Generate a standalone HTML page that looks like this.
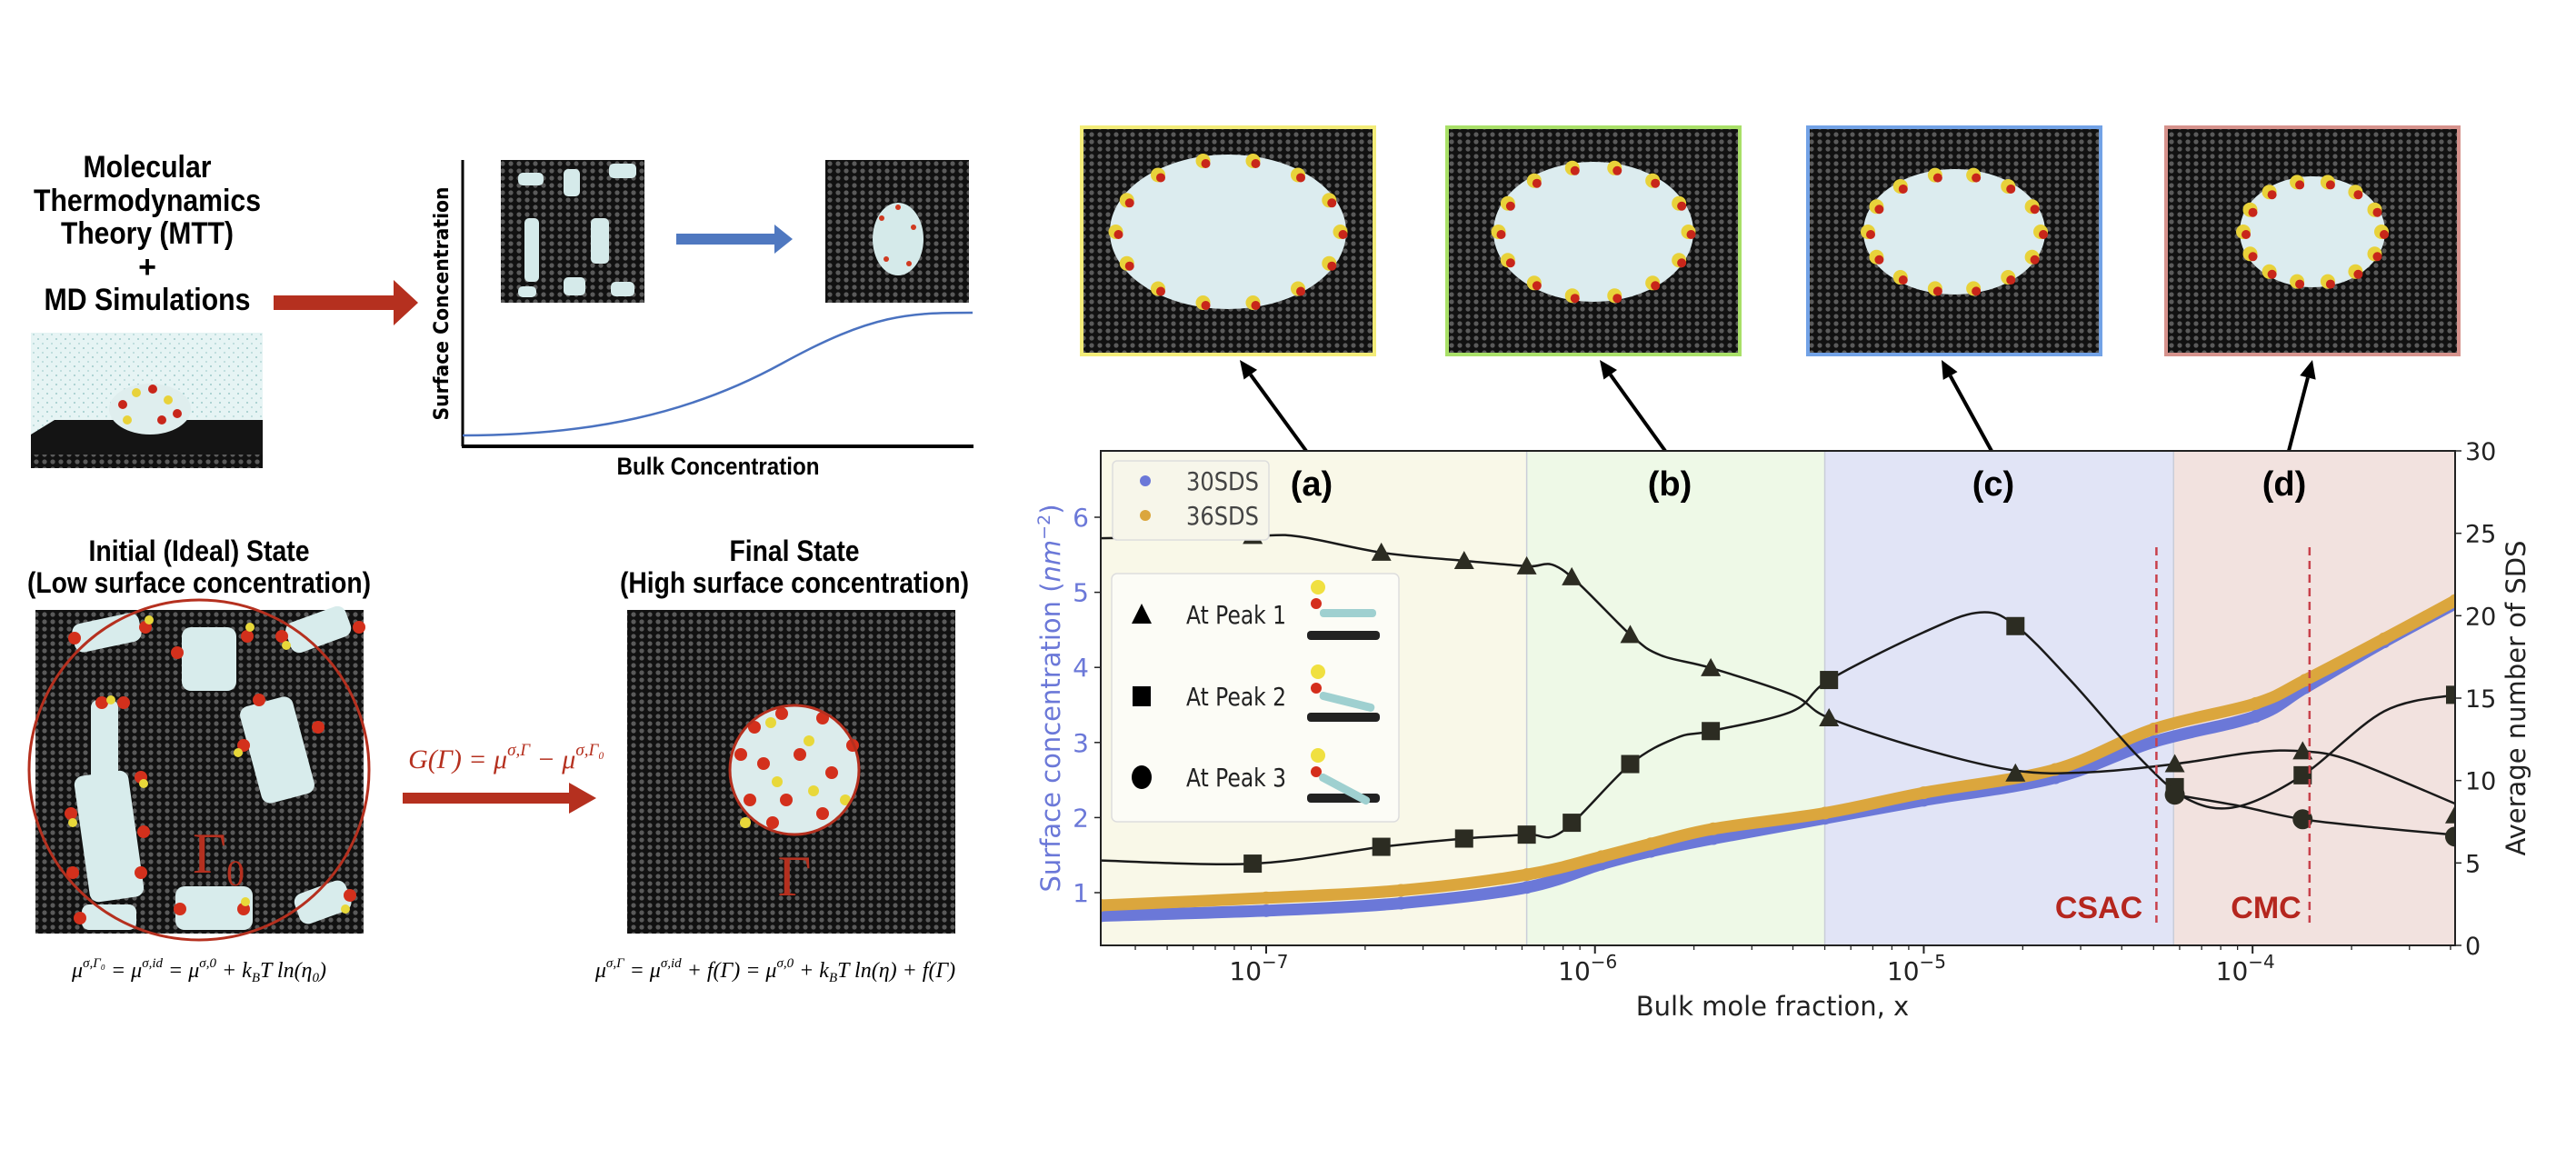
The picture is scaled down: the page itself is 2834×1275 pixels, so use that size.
<!DOCTYPE html>
<html><head><meta charset="utf-8">
<style>
html,body{margin:0;padding:0;background:#fff;}
svg{display:block;}
.nb{font-family:"Liberation Sans Narrow","Liberation Sans",sans-serif;font-weight:bold;}
.mp{font-family:"DejaVu Sans","Liberation Sans",sans-serif;}
.mt{font-family:"Liberation Serif",serif;font-style:italic;}
</style></head>
<body>
<svg id="fig" width="2834" height="1275" viewBox="0 0 2834 1275" xmlns="http://www.w3.org/2000/svg">
<defs>
<pattern id="graph" width="9" height="8" patternUnits="userSpaceOnUse">
<rect width="9" height="8" fill="#111"/><circle cx="4" cy="4" r="2.6" fill="#5a5a5a"/>
</pattern>
<pattern id="water" width="10" height="10" patternUnits="userSpaceOnUse">
<rect width="10" height="10" fill="#e6f4f4"/><circle cx="2" cy="3" r="1" fill="#9cc9c9"/><circle cx="7" cy="8" r="1" fill="#b4d8d8"/>
</pattern>
</defs>

<!-- LEFT PANEL -->
<g>
<text class="nb" x="162" y="195" font-size="34" text-anchor="middle" textLength="141" lengthAdjust="spacingAndGlyphs">Molecular</text>
<text class="nb" x="162" y="232" font-size="34" text-anchor="middle" textLength="250" lengthAdjust="spacingAndGlyphs">Thermodynamics</text>
<text class="nb" x="162" y="268" font-size="34" text-anchor="middle" textLength="190" lengthAdjust="spacingAndGlyphs">Theory (MTT)</text>
<text class="nb" x="162" y="305" font-size="34" text-anchor="middle">+</text>
<text class="nb" x="162" y="341" font-size="34" text-anchor="middle" textLength="227" lengthAdjust="spacingAndGlyphs">MD Simulations</text>
</g>
<g>
<rect x="34" y="366" width="255" height="149" fill="url(#water)"/>
<polygon points="34,478 60,462 289,462 289,515 34,515" fill="#141414"/>
<rect x="34" y="500" width="255" height="15" fill="url(#graph)"/>
<ellipse cx="165" cy="450" rx="45" ry="28" fill="#dfeeee"/>
<circle cx="135" cy="445" r="5" fill="#c8261a"/><circle cx="150" cy="432" r="5" fill="#e8d23a"/><circle cx="168" cy="428" r="5" fill="#c8261a"/><circle cx="185" cy="440" r="5" fill="#e8d23a"/><circle cx="195" cy="455" r="5" fill="#c8261a"/><circle cx="140" cy="462" r="5" fill="#e8d23a"/><circle cx="178" cy="462" r="5" fill="#c8261a"/>
</g>
<polygon points="301,325 433,325 433,308 460,333 433,358 433,341 301,341" fill="#b5301f"/>

<g>
<line x1="509" y1="176" x2="509" y2="491" stroke="#000" stroke-width="3"/>
<line x1="508" y1="491" x2="1071" y2="491" stroke="#000" stroke-width="4"/>
<path d="M509,479 C650,479 760,455 860,400 S1000,344 1070,344" fill="none" stroke="#4a72c0" stroke-width="2.5"/>
<text class="mp" font-weight="bold" font-size="22" transform="translate(493,334) rotate(-90)" text-anchor="middle" textLength="257" lengthAdjust="spacingAndGlyphs">Surface Concentration</text>
<text class="nb" x="790" y="522" font-size="27" text-anchor="middle" textLength="223" lengthAdjust="spacingAndGlyphs">Bulk Concentration</text>
<rect x="551" y="176" width="158" height="157" fill="url(#graph)"/>
<g fill="#d5eaea">
<rect x="570" y="190" width="28" height="14" rx="5"/><rect x="620" y="186" width="18" height="30" rx="5"/><rect x="670" y="180" width="30" height="16" rx="5"/>
<rect x="577" y="240" width="16" height="70" rx="5"/><rect x="650" y="240" width="20" height="50" rx="5"/>
<rect x="620" y="305" width="24" height="20" rx="5"/><rect x="672" y="310" width="26" height="16" rx="5"/><rect x="570" y="315" width="20" height="12" rx="5"/>
</g>
<rect x="908" y="176" width="158" height="157" fill="url(#graph)"/>
<ellipse cx="988" cy="263" rx="28" ry="40" fill="#d5eaea"/>
<g fill="#d03a20"><circle cx="970" cy="240" r="3"/><circle cx="1005" cy="250" r="3"/><circle cx="975" cy="285" r="3"/><circle cx="1000" cy="290" r="3"/><circle cx="988" cy="228" r="3"/></g>
<polygon points="744,257 852,257 852,247 872,263 852,279 852,269 744,269" fill="#4f78c0"/>
</g>

<g>
<text class="nb" x="219" y="617" font-size="32" text-anchor="middle" textLength="243" lengthAdjust="spacingAndGlyphs">Initial (Ideal) State</text>
<text class="nb" x="219" y="652" font-size="32" text-anchor="middle" textLength="378" lengthAdjust="spacingAndGlyphs">(Low surface concentration)</text>
<text class="nb" x="874" y="617" font-size="32" text-anchor="middle" textLength="143" lengthAdjust="spacingAndGlyphs">Final State</text>
<text class="nb" x="874" y="652" font-size="32" text-anchor="middle" textLength="384" lengthAdjust="spacingAndGlyphs">(High surface concentration)</text>
</g>
<g>
<rect x="39" y="671" width="361" height="356" fill="url(#graph)"/>
<g fill="#d8ecec">
<rect x="80" y="680" width="75" height="32" rx="10" transform="rotate(-12 117 696)"/>
<rect x="200" y="690" width="60" height="70" rx="10"/>
<rect x="315" y="675" width="70" height="35" rx="10" transform="rotate(-20 350 692)"/>
<rect x="100" y="770" width="30" height="90" rx="8"/>
<rect x="90" y="850" width="60" height="140" rx="10" transform="rotate(-8 120 920)"/>
<rect x="275" y="770" width="60" height="110" rx="10" transform="rotate(-15 305 825)"/>
<rect x="193" y="975" width="85" height="48" rx="10"/>
<rect x="325" y="975" width="60" height="35" rx="10" transform="rotate(-20 355 992)"/>
<rect x="90" y="995" width="60" height="28" rx="8"/>
</g>
<g fill="#d3301c">
<circle cx="160" cy="690" r="7"/><circle cx="82" cy="702" r="7"/><circle cx="272" cy="700" r="7"/><circle cx="195" cy="718" r="7"/><circle cx="395" cy="690" r="7"/><circle cx="310" cy="700" r="7"/>
<circle cx="112" cy="773" r="7"/><circle cx="136" cy="773" r="7"/><circle cx="285" cy="770" r="7"/><circle cx="268" cy="820" r="7"/><circle cx="350" cy="800" r="7"/>
<circle cx="78" cy="895" r="7"/><circle cx="158" cy="915" r="7"/><circle cx="155" cy="855" r="7"/><circle cx="80" cy="960" r="7"/><circle cx="155" cy="960" r="7"/>
<circle cx="198" cy="1000" r="7"/><circle cx="268" cy="1000" r="7"/><circle cx="385" cy="985" r="7"/><circle cx="88" cy="1010" r="7"/>
</g>
<g fill="#e8d83a">
<circle cx="164" cy="682" r="5"/><circle cx="275" cy="690" r="5"/><circle cx="315" cy="710" r="5"/><circle cx="122" cy="770" r="5"/><circle cx="262" cy="828" r="5"/><circle cx="158" cy="862" r="5"/><circle cx="80" cy="905" r="5"/><circle cx="270" cy="992" r="5"/><circle cx="380" cy="1000" r="5"/>
</g>
<circle cx="219" cy="847" r="187" fill="none" stroke="#b5301f" stroke-width="3"/>
<text x="212" y="960" font-family="Liberation Serif,serif" font-size="64" fill="#b5301f">Γ<tspan font-size="40" dy="14">0</tspan></text>
</g>
<g>
<text class="mt" x="557" y="845" font-size="30" fill="#b5301f" text-anchor="middle">G(Γ) = μ<tspan font-size="19" dy="-14">σ,Γ</tspan><tspan dy="14"> − μ</tspan><tspan font-size="19" dy="-14">σ,Γ₀</tspan></text>
<polygon points="443,872 626,872 626,861 656,878 626,895 626,884 443,884" fill="#b5301f"/>
</g>
<g>
<rect x="690" y="671" width="361" height="356" fill="url(#graph)"/>
<ellipse cx="874" cy="847" rx="70" ry="72" fill="#dcecec"/>
<g fill="#d3301c"><circle cx="830" cy="800" r="7"/><circle cx="860" cy="785" r="7"/><circle cx="905" cy="790" r="7"/><circle cx="840" cy="840" r="7"/><circle cx="880" cy="830" r="7"/><circle cx="915" cy="850" r="7"/><circle cx="825" cy="880" r="7"/><circle cx="865" cy="880" r="7"/><circle cx="905" cy="895" r="7"/><circle cx="850" cy="905" r="7"/><circle cx="938" cy="820" r="7"/><circle cx="815" cy="830" r="7"/></g>
<g fill="#e8d83a"><circle cx="848" cy="795" r="6"/><circle cx="890" cy="815" r="6"/><circle cx="855" cy="860" r="6"/><circle cx="895" cy="870" r="6"/><circle cx="930" cy="880" r="6"/><circle cx="820" cy="905" r="6"/></g>
<circle cx="874" cy="847" r="71" fill="none" stroke="#b5301f" stroke-width="3"/>
<text x="874" y="985" font-family="Liberation Serif,serif" font-size="64" fill="#b5301f" text-anchor="middle">Γ</text>
</g>
<g>
<text class="mt" x="219" y="1075" font-size="24" text-anchor="middle">μ<tspan font-size="15" dy="-11">σ,Γ₀</tspan><tspan dy="11"> = μ</tspan><tspan font-size="15" dy="-11">σ,id</tspan><tspan dy="11"> = μ</tspan><tspan font-size="15" dy="-11">σ,0</tspan><tspan dy="11"> + k</tspan><tspan font-size="15" dy="5">B</tspan><tspan dy="-5">T ln(η</tspan><tspan font-size="15" dy="5">0</tspan><tspan dy="-5">)</tspan></text>
<text class="mt" x="853" y="1075" font-size="24" text-anchor="middle">μ<tspan font-size="15" dy="-11">σ,Γ</tspan><tspan dy="11"> = μ</tspan><tspan font-size="15" dy="-11">σ,id</tspan><tspan dy="11"> + f(Γ) = μ</tspan><tspan font-size="15" dy="-11">σ,0</tspan><tspan dy="11"> + k</tspan><tspan font-size="15" dy="5">B</tspan><tspan dy="-5">T ln(η) + f(Γ)</tspan></text>
</g>

<!-- SNAPSHOT FRAMES -->
<g id="frames"></g>
<g id="chart"></g>
</svg>

<script>
// ---- chart data ----
const xTickExps = [-7, -6, -5, -4];
const leftTicks = [1, 2, 3, 4, 5, 6];
const rightTicks = [0, 5, 10, 15, 20, 25, 30];
const regionLabels = ["(a)", "(b)", "(c)", "(d)"];
const regionBounds = [3.14e-8, 6.2e-7, 5.0e-6, 5.75e-5, 4.13e-4];
const markerX = [9.1e-8, 2.24e-7, 4.0e-7, 6.2e-7, 8.5e-7, 1.28e-6, 2.25e-6, 5.15e-6, 1.9e-5, 5.8e-5, 1.42e-4, 4.13e-4];
const peak1Values = [24.85, 23.83, 23.33, 23.0, 22.34, 18.84, 16.83, 13.79, 10.44, 11.0, 11.78, 7.9];
const peak2Values = [4.96, 5.98, 6.48, 6.72, 7.44, 11.0, 13.0, 16.1, 19.37, 9.6, 10.32, 15.2];
const peak3X = [5.8e-5, 1.42e-4, 4.13e-4];
const peak3Values = [9.14, 7.65, 6.6];
const peak1CurveLogX = [-7.503, -7.04, -6.9, -6.649, -6.399, -6.207, -6.1, -5.892, -5.8, -5.648, -5.4, -5.288, -5.0, -4.72, -4.5, -4.238, -4.0, -3.848, -3.7, -3.384];
const peak1CurveY = [24.7, 24.85, 24.8, 23.83, 23.33, 23.0, 22.8, 18.84, 17.6, 16.83, 15.2, 13.79, 11.9, 10.6, 10.5, 11.0, 11.7, 11.78, 11.2, 8.6];
const peak2CurveLogX = [-7.503, -7.04, -6.649, -6.399, -6.207, -6.1, -5.892, -5.75, -5.648, -5.4, -5.288, -5.0, -4.83, -4.72, -4.55, -4.35, -4.2, -4.05, -3.848, -3.6, -3.384];
const peak2CurveY = [5.15, 4.96, 5.98, 6.48, 6.72, 6.9, 11.0, 12.6, 13.0, 14.2, 16.1, 19.0, 20.2, 19.4, 16.0, 11.5, 8.9, 8.4, 10.32, 14.2, 15.2];
const peak3CurveLogX = [-4.238, -4.05, -3.848, -3.6, -3.384];
const peak3CurveY = [9.14, 8.5, 7.65, 7.1, 6.7];
const sdsLogX = [-7.503, -7.0, -6.59, -6.207, -5.98, -5.83, -5.64, -5.30, -5.0, -4.6, -4.3, -3.99, -3.84, -3.6, -3.384];
const sds36Values = [0.83, 0.93, 1.03, 1.24, 1.48, 1.65, 1.85, 2.06, 2.33, 2.64, 3.18, 3.52, 3.83, 4.38, 4.89];
const sds30Values = [0.69, 0.76, 0.86, 1.07, 1.38, 1.55, 1.72, 1.99, 2.23, 2.53, 3.01, 3.35, 3.73, 4.34, 4.85];
const csacX = 5.1e-5;
const cmcX = 1.49e-4;

// ---- scales ----
const PL = 1211, PR = 2701, PT = 496, PB = 1040;
const LX0 = Math.log10(3.14e-8), LX1 = Math.log10(4.13e-4);
function xLog(l) { return PL + (l - LX0) / (LX1 - LX0) * (PR - PL); }
function xS(v) { return xLog(Math.log10(v)); }
function yL(v) { return 982 - (v - 1) * 82.6; }
function yR(v) { return PB - v * (PB - PT) / 30; }

const NS = "http://www.w3.org/2000/svg";
function mk(tag, attrs, parent) {
  const e = document.createElementNS(NS, tag);
  for (const k in attrs) e.setAttribute(k, attrs[k]);
  parent.appendChild(e);
  return e;
}
function smooth(pts) {
  let d = "M" + pts[0][0].toFixed(1) + "," + pts[0][1].toFixed(1);
  for (let i = 0; i < pts.length - 1; i++) {
    const p0 = pts[Math.max(0, i - 1)], p1 = pts[i], p2 = pts[i + 1], p3 = pts[Math.min(pts.length - 1, i + 2)];
    const c1x = p1[0] + (p2[0] - p0[0]) / 6, c1y = p1[1] + (p2[1] - p0[1]) / 6;
    const c2x = p2[0] - (p3[0] - p1[0]) / 6, c2y = p2[1] - (p3[1] - p1[1]) / 6;
    d += " C" + c1x.toFixed(1) + "," + c1y.toFixed(1) + " " + c2x.toFixed(1) + "," + c2y.toFixed(1) + " " + p2[0].toFixed(1) + "," + p2[1].toFixed(1);
  }
  return d;
}

const chart = document.getElementById("chart");
const clip = mk("clipPath", {id: "plotclip"}, mk("defs", {}, chart));
mk("rect", {x: PL, y: PT, width: PR - PL, height: PB - PT}, clip);

// regions
const regionColors = ["#f9f8e8", "#eef9e7", "#e1e4f6", "#f2e2df"];
const labelX = [1443, 1837, 2193, 2513];
for (let i = 0; i < 4; i++) {
  const r = mk("rect", {x: xS(regionBounds[i]), y: PT, width: xS(regionBounds[i + 1]) - xS(regionBounds[i]), height: PB - PT, fill: regionColors[i]}, chart);
  
  
  if (i > 0) mk("line", {x1: xS(regionBounds[i]), y1: PT, x2: xS(regionBounds[i]), y2: PB, stroke: "#c9cdd8", "stroke-width": 1.5}, chart);
}
for (let i = 0; i < 4; i++) {
  const t = mk("text", {x: labelX[i], y: 545, "font-size": 38, "font-weight": "bold", "text-anchor": "middle", class: "nb"}, chart);
  t.textContent = regionLabels[i];
  
  
}

const g = mk("g", {"clip-path": "url(#plotclip)"}, chart);
// SDS bands
function band(vals, color, name) {
  const pts = sdsLogX.map((l, i) => [xLog(l), yL(vals[i])]);
  const p = mk("path", {d: smooth(pts), fill: "none", stroke: color, "stroke-width": 13, "stroke-linecap": "round"}, g);
  
  
  pts.forEach(pt => {
    const c = mk("circle", {cx: pt[0], cy: pt[1], r: 7, fill: color}, g);
    
    
  });
}
band(sds30Values, "#6b78d8", "sds30");
band(sds36Values, "#dba63d", "sds36");

// peak curves
function curve(lx, vy, name) {
  const p = mk("path", {d: smooth(lx.map((l, i) => [xLog(l), yR(vy[i])])), fill: "none", stroke: "#1a1a1a", "stroke-width": 2.5}, g);
  
  
}
curve(peak1CurveLogX, peak1CurveY, "peak1");
curve(peak2CurveLogX, peak2CurveY, "peak2");
curve(peak3CurveLogX, peak3CurveY, "peak3");
const mcol = "#2c2c22";
markerX.forEach((x, i) => {
  const cx = xS(x), cy = yR(peak1Values[i]);
  const t = mk("polygon", {points: (cx) + "," + (cy - 11) + " " + (cx - 11) + "," + (cy + 9) + " " + (cx + 11) + "," + (cy + 9), fill: mcol}, g);
  
  
  const sy = yR(peak2Values[i]);
  const s = mk("rect", {x: cx - 10, y: sy - 10, width: 20, height: 20, fill: mcol}, g);
  
  
});
peak3X.forEach((x, i) => {
  const c = mk("circle", {cx: xS(x), cy: yR(peak3Values[i]), r: 11, fill: mcol}, g);
  
  
});

// CSAC / CMC
[[csacX, "CSAC", 2309], [cmcX, "CMC", 2493]].forEach(a => {
  const l = mk("line", {x1: xS(a[0]), y1: 602, x2: xS(a[0]), y2: 1015, stroke: "#c8404a", "stroke-width": 2.5, "stroke-dasharray": "9,6"}, chart);
  
  
  const t = mk("text", {x: a[2], y: 1010, "font-size": 34, fill: "#b5261e", "text-anchor": "middle", class: "nb"}, chart);
  t.textContent = a[1];
  
  
});

// frame
mk("rect", {x: PL, y: PT, width: PR - PL, height: PB - PT, fill: "none", stroke: "#222", "stroke-width": 2}, chart);
// x ticks
for (let e = -8; e <= -4; e++) {
  for (let m = 1; m < 10; m++) {
    const l = e + Math.log10(m);
    if (l < LX0 || l > LX1) continue;
    mk("line", {x1: xLog(l), y1: PB, x2: xLog(l), y2: PB + (m === 1 ? 9 : 5), stroke: "#222", "stroke-width": m === 1 ? 2 : 1.3}, chart);
  }
}
xTickExps.forEach(e => {
  const t = mk("text", {x: xLog(e) - 8, y: 1078, "font-size": 28, "text-anchor": "middle", class: "mp", fill: "#222"}, chart);
  t.textContent = "10";
  const s = mk("tspan", {"font-size": 20, dy: -13}, t);
  s.textContent = "−" + (-e);
  
  
});
leftTicks.forEach(v => {
  mk("line", {x1: PL - 7, y1: yL(v), x2: PL, y2: yL(v), stroke: "#222", "stroke-width": 1.5}, chart);
  const t = mk("text", {x: PL - 13, y: yL(v) + 10, "font-size": 28, "text-anchor": "end", fill: "#6b78d8", class: "mp"}, chart);
  t.textContent = v;
  
  
});
rightTicks.forEach(v => {
  mk("line", {x1: PR, y1: yR(v), x2: PR + 7, y2: yR(v), stroke: "#222", "stroke-width": 1.5}, chart);
  const t = mk("text", {x: PR + 11, y: yR(v) + 10, "font-size": 27, fill: "#222", class: "mp"}, chart);
  t.textContent = v;
  
  
});
let t = mk("text", {"font-size": 29, "text-anchor": "middle", fill: "#222", class: "mp", x: 1950, y: 1117}, chart);
t.textContent = "Bulk mole fraction, x";


t = mk("text", {"font-size": 29, "text-anchor": "middle", fill: "#6b78d8", class: "mp", transform: "translate(1166,768) rotate(-90)"}, chart);
t.textContent = "Surface concentration (";
let ts = mk("tspan", {"font-style": "italic"}, t); ts.textContent = "nm";
ts = mk("tspan", {"font-size": 19, dy: -11}, t); ts.textContent = "−2";
ts = mk("tspan", {dy: 11}, t); ts.textContent = ")";


t = mk("text", {"font-size": 29, "text-anchor": "middle", fill: "#222", class: "mp", transform: "translate(2778,768) rotate(-90)"}, chart);
t.textContent = "Average number of SDS";



// legend 1
const lg1 = mk("g", {}, chart);


mk("rect", {x: 1224, y: 507, width: 172, height: 87, rx: 5, fill: "#f7f6ea", stroke: "#ddd", "stroke-width": 1.5}, lg1);
[["30SDS", "#6b78d8", 529], ["36SDS", "#dba63d", 567]].forEach(e => {
  mk("circle", {cx: 1260, cy: e[2], r: 6, fill: e[1]}, lg1);
  const tt = mk("text", {x: 1305, y: e[2] + 10, "font-size": 28, fill: "#444", class: "mp", textLength: 80, lengthAdjust: "spacingAndGlyphs"}, lg1);
  tt.textContent = e[0];
  
  
});
// legend 2
const lg2 = mk("g", {}, chart);


mk("rect", {x: 1223, y: 631, width: 316, height: 273, rx: 6, fill: "#fcfcf6", stroke: "#ddd", "stroke-width": 1.5}, lg2);
[["At Peak 1", 676, 0], ["At Peak 2", 766, 1], ["At Peak 3", 855, 2]].forEach(e => {
  const y = e[1], cx = 1256;
  if (e[2] === 0) mk("polygon", {points: cx + "," + (y - 12) + " " + (cx - 11) + "," + (y + 10) + " " + (cx + 11) + "," + (y + 10), fill: "#000"}, lg2);
  if (e[2] === 1) mk("rect", {x: cx - 10, y: y - 11, width: 20, height: 22, fill: "#000"}, lg2);
  if (e[2] === 2) mk("ellipse", {cx: cx, cy: y, rx: 11, ry: 13, fill: "#000"}, lg2);
  const tt = mk("text", {x: 1305, y: y + 10, "font-size": 28, fill: "#222", class: "mp", textLength: 110, lengthAdjust: "spacingAndGlyphs"}, lg2);
  tt.textContent = e[0];
  
  
  mk("rect", {x: 1438, y: y + 18, width: 80, height: 10, rx: 4, fill: "#222"}, lg2);
  mk("circle", {cx: 1450, cy: y - 30 + e[2] * 3, r: 8, fill: "#f0e040"}, lg2);
  mk("circle", {cx: 1448, cy: y - 12 + e[2] * 3, r: 6, fill: "#d42e1c"}, lg2);
  const ang = e[2] * 14;
  mk("rect", {x: 1452, y: y - 6, width: 62, height: 9, rx: 4, fill: "#9fd0d0", transform: "rotate(" + ang + " 1452 " + (y - 2) + ")"}, lg2);
});

// snapshot frames + arrows
const frames = document.getElementById("frames");
const fx = [1190, 1592, 1989, 2383];
const fborder = ["#f3ec78", "#a9e068", "#72a2e6", "#d6928c"];
const arrowFrom = [[1437, 496], [1832, 496], [2191, 496], [2518, 496]];
const arrowTo = [[1364, 396], [1760, 396], [2136, 396], [2544, 396]];
for (let i = 0; i < 4; i++) {
  const fg = mk("g", {}, frames);
  
  
  mk("rect", {x: fx[i], y: 140, width: 322, height: 250, fill: "url(#graph)", stroke: fborder[i], "stroke-width": 4}, fg);
  const cx = fx[i] + 161, w = [130, 110, 100, 80][i];
  mk("ellipse", {cx: cx, cy: 255, rx: w, ry: 85 - i * 8, fill: "#dcecef"}, fg);
  for (let k = 0; k < 14; k++) {
    const a = k / 14 * Math.PI * 2;
    mk("circle", {cx: cx + Math.cos(a) * w * 0.95, cy: 255 + Math.sin(a) * (80 - i * 8), r: 8, fill: "#e8d23a"}, fg);
    mk("circle", {cx: cx + Math.cos(a) * w * 0.95 + 3, cy: 255 + Math.sin(a) * (80 - i * 8) + 3, r: 5, fill: "#c8261a"}, fg);
  }
  const ar = mk("g", {}, frames);
  
  
  const [x1, y1] = arrowFrom[i], [x2, y2] = arrowTo[i];
  const dx = x2 - x1, dy = y2 - y1, L = Math.hypot(dx, dy), ux = dx / L, uy = dy / L;
  const bx = x2 - ux * 20, by = y2 - uy * 20;
  mk("line", {x1: x1, y1: y1, x2: bx, y2: by, stroke: "#000", "stroke-width": 4}, ar);
  mk("polygon", {points: x2 + "," + y2 + " " + (bx - uy * 9) + "," + (by + ux * 9) + " " + (bx + uy * 9) + "," + (by - ux * 9), fill: "#000"}, ar);
}
</script>
</body></html>
